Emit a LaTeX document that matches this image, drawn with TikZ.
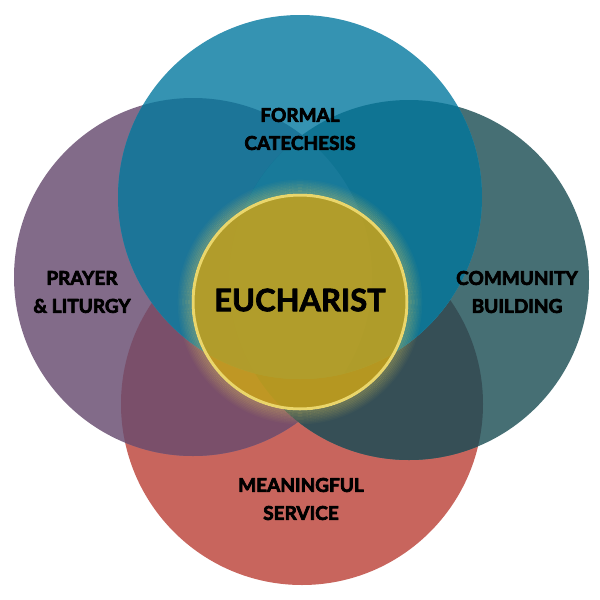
\documentclass[tikz,border=0pt]{standalone}
\usepackage{fontspec}
\newfontfamily\lato{Lato}
\definecolor{cTop}{HTML}{3593B2}
\definecolor{cLeft}{HTML}{826B89}
\definecolor{cRight}{HTML}{466F74}
\definecolor{cBot}{HTML}{C8655D}
\definecolor{cTL}{HTML}{1C7598}
\definecolor{cTR}{HTML}{0F7493}
\definecolor{cTLR}{HTML}{187A9A}
\definecolor{cLB}{HTML}{7A4F6A}
\definecolor{cRB}{HTML}{364F56}
\definecolor{cGold}{HTML}{CCA418}
\definecolor{cRim}{HTML}{EAD66B}
\definecolor{cGlow}{HTML}{F2D85A}
\newcommand{\heavy}[1]{\special{pdf:code 2 Tr 0.7 w 1 j}#1\special{pdf:code 0 Tr}}
\tikzset{
  lbl/.style={font=\lato\bfseries\fontsize{19}{28}\selectfont, align=center, text=black, inner sep=0pt},
  biglbl/.style={font=\lato\bfseries\fontsize{31}{36}\selectfont, text=black, inner sep=0pt}
}
\begin{document}
\begin{tikzpicture}[x=1pt,y=-1pt]
\useasboundingbox (0,0) rectangle (600,600);
\coordinate (T) at (300,197);
\coordinate (L) at (193,277);
\coordinate (R) at (409,280);
\coordinate (B) at (302,404);
\coordinate (E) at (300,302);
\def\rT{182}\def\rL{179}\def\rR{180}\def\rB{181}\def\rE{107}
% base circles
\fill[cBot] (B) circle[radius=\rB];
\fill[cLeft] (L) circle[radius=\rL];
\fill[cRight] (R) circle[radius=\rR];
\begin{scope}\clip (L) circle[radius=\rL]; \fill[cLB] (B) circle[radius=\rB];\end{scope}
\begin{scope}\clip (R) circle[radius=\rR]; \fill[cRB] (B) circle[radius=\rB];\end{scope}
\fill[cTop] (T) circle[radius=\rT];
\begin{scope}\clip (T) circle[radius=\rT]; \fill[cTL] (L) circle[radius=\rL];\end{scope}
\begin{scope}\clip (T) circle[radius=\rT]; \fill[cTR] (R) circle[radius=\rR];\end{scope}
\begin{scope}\clip (T) circle[radius=\rT]; \clip (L) circle[radius=\rL]; \fill[cTLR] (R) circle[radius=\rR];\end{scope}
% glow
\foreach \i in {1,...,9}{
  \draw[cGlow, line width=1.6pt, opacity={0.30-0.03*\i}] (E) circle[radius={\rE+1+1.5*\i}];
}
% gold circle
\fill[cGold, opacity=0.85] (E) circle[radius=\rE];
\draw[cRim, line width=3pt] (E) circle[radius=\rE];
% labels
\node[biglbl] (eu) at (300,300) {\heavy{EUCHARIST}};
\node[lbl] (fc) at (300,129) {\heavy{FORMAL}\\\heavy{CATECHESIS}};
\node[lbl] (pl) at (82,292) {\heavy{PRAYER}\\\heavy{\& LITURGY}};
\node[lbl] (cb) at (517,292) {\heavy{COMMUNITY}\\\heavy{BUILDING}};
\node[lbl] (ms) at (301,499) {\heavy{MEANINGFUL}\\\heavy{SERVICE}};
\end{tikzpicture}
\end{document}
